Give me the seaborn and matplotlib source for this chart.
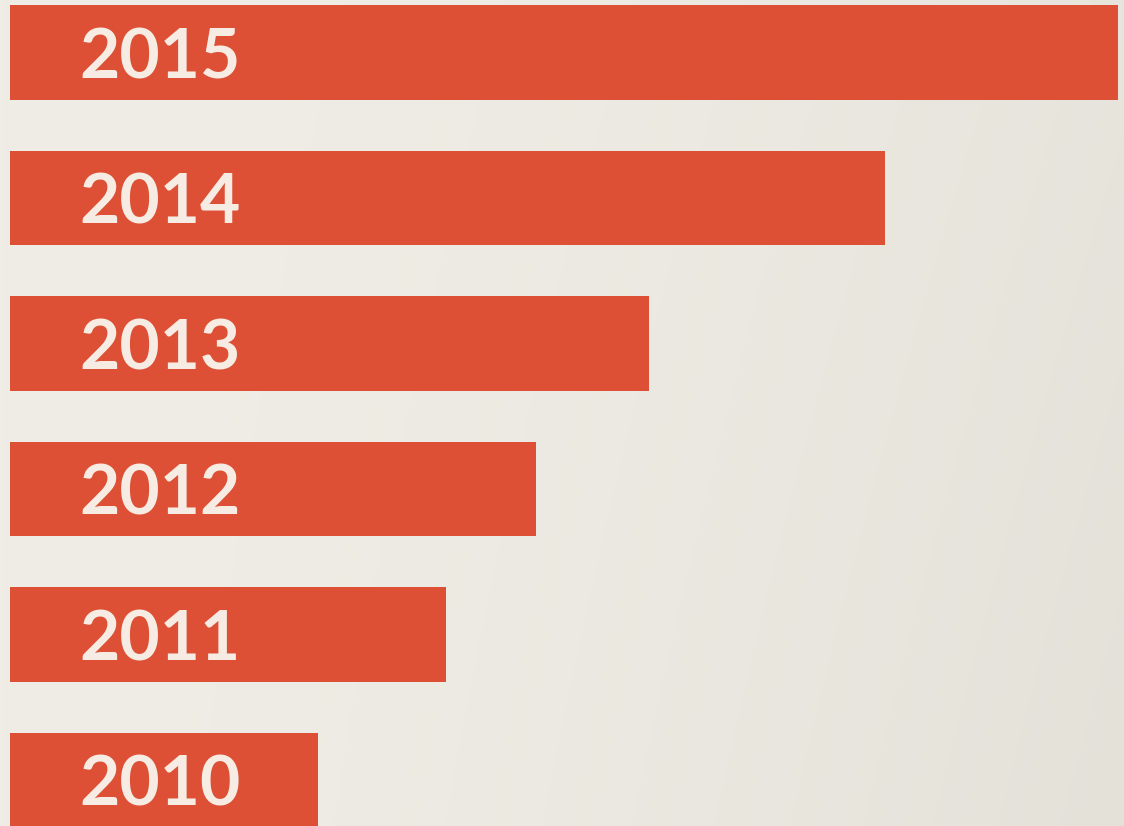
import numpy as np
import pandas as pd
import matplotlib
matplotlib.use("Agg")
import matplotlib.pyplot as plt
import seaborn as sns

# Data (relative bar lengths)
years = ["2015", "2014", "2013", "2012", "2011", "2010"]
values = [1108, 875, 639, 526, 436, 308]

bar_color = "#DD5035"
text_color = "#F6ECE3"

sns.set_theme(style="white")
plt.rcParams["font.family"] = ["Lato", "DejaVu Sans"]

df = pd.DataFrame({"year": years, "value": values})

fig = plt.figure(figsize=(11.24, 8.26), dpi=100)
ax = fig.add_axes([0, 0, 1, 1])

sns.barplot(data=df, x="value", y="year", order=years, orient="h",
            color=bar_color, saturation=1, width=0.65, linewidth=0,
            edgecolor="none", ax=ax, zorder=2)

# subtle background gradient
gx = np.linspace(0, 1, 256)
gy = np.linspace(0, 1, 256)
GX, GY = np.meshgrid(gx, gy)
c_light = np.array([0xF0, 0xED, 0xE6]) / 255
c_dark = np.array([0xE3, 0xE1, 0xD8]) / 255
t = np.clip(0.7 * GX ** 1.8 + 0.3 * GX * GY, 0, 1)
img = c_light[None, None, :] * (1 - t[..., None]) + c_dark[None, None, :] * t[..., None]
ax.imshow(img, extent=(-10, 1114, 5.316, -0.361), aspect="auto", zorder=0,
          interpolation="bilinear")
ax.set_xlim(-10, 1114)
ax.set_ylim(5.316, -0.361)

for i, y in enumerate(years):
    ax.text(150, i, y, ha="center", va="center_baseline", color=text_color,
            fontsize=50, fontweight="bold", zorder=3)

ax.set_axis_off()
fig.savefig("out.png", dpi=100)
